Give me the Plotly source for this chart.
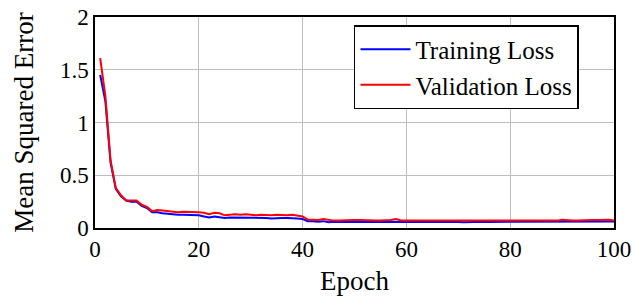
import plotly.graph_objects as go

epochs = list(range(1, 101))

training_loss = [
    1.45, 1.20, 0.62, 0.37, 0.30, 0.26, 0.25, 0.25, 0.21, 0.19,
    0.15, 0.15, 0.14, 0.135, 0.125, 0.125, 0.125, 0.125, 0.12, 0.12,
    0.11, 0.10, 0.11, 0.10, 0.095, 0.10, 0.10, 0.095, 0.10, 0.095,
    0.095, 0.095, 0.095, 0.09, 0.095, 0.095, 0.095, 0.095, 0.09, 0.085,
    0.065, 0.065, 0.06, 0.065, 0.055, 0.06, 0.06, 0.06, 0.06, 0.06,
    0.06, 0.058, 0.058, 0.058, 0.058, 0.058, 0.06, 0.065, 0.058, 0.058,
    0.058, 0.058, 0.058, 0.06, 0.058, 0.058, 0.06, 0.058, 0.06, 0.058,
    0.055, 0.058, 0.058, 0.058, 0.06, 0.058, 0.058, 0.058, 0.058, 0.058,
    0.058, 0.058, 0.06, 0.058, 0.06, 0.06, 0.058, 0.06, 0.058, 0.062,
    0.058, 0.058, 0.058, 0.058, 0.065, 0.06, 0.06, 0.062, 0.062, 0.062,
]

validation_loss = [
    1.61, 1.25, 0.64, 0.38, 0.31, 0.26, 0.26, 0.26, 0.22, 0.20,
    0.16, 0.17, 0.165, 0.16, 0.15, 0.15, 0.155, 0.155, 0.15, 0.15,
    0.145, 0.13, 0.145, 0.14, 0.12, 0.125, 0.13, 0.125, 0.13, 0.125,
    0.12, 0.125, 0.12, 0.12, 0.125, 0.12, 0.12, 0.125, 0.12, 0.11,
    0.08, 0.08, 0.075, 0.085, 0.075, 0.07, 0.072, 0.075, 0.075, 0.075,
    0.075, 0.072, 0.072, 0.072, 0.072, 0.072, 0.075, 0.085, 0.072, 0.07,
    0.07, 0.07, 0.07, 0.072, 0.07, 0.07, 0.075, 0.072, 0.075, 0.072,
    0.068, 0.07, 0.072, 0.072, 0.075, 0.072, 0.07, 0.072, 0.072, 0.07,
    0.07, 0.07, 0.075, 0.072, 0.075, 0.075, 0.072, 0.075, 0.07, 0.078,
    0.072, 0.072, 0.07, 0.072, 0.08, 0.075, 0.075, 0.078, 0.078, 0.072,
]

x_ticks = [0, 20, 40, 60, 80, 100]
y_ticks = [0, 0.5, 1, 1.5, 2]
y_tick_labels = ["0", "0.5", "1", "1.5", "2"]

font_family = "Liberation Serif"

fig = go.Figure()
fig.add_trace(go.Scatter(x=epochs, y=training_loss, mode="lines", name="Training Loss",
                         line=dict(color="#0000ff", width=2)))
fig.add_trace(go.Scatter(x=epochs, y=validation_loss, mode="lines", name="Validation Loss",
                         line=dict(color="#ff0000", width=2)))

fig.update_layout(
    width=635, height=296,
    margin=dict(l=95, r=21, t=17, b=68),
    paper_bgcolor="white", plot_bgcolor="white",
    font=dict(family=font_family, size=22, color="black"),
    legend=dict(x=0.499, y=0.962, xanchor="left", yanchor="top",
                bordercolor="black", borderwidth=1.5, bgcolor="white",
                font=dict(family=font_family, size=25, color="black"), tracegroupgap=0,
                itemwidth=50),
    showlegend=True,
)
fig.update_xaxes(range=[0, 100], tickvals=x_ticks, showgrid=True, gridcolor="#bfbfbf", gridwidth=1,
                 showline=True, linecolor="black", linewidth=1.5, mirror=True,
                 ticks="", zeroline=False, automargin=False, ticklabeloverflow="allow",
                 tickfont=dict(family=font_family, size=23, color="black"),
                 title=dict(text="Epoch", standoff=11,
                            font=dict(family=font_family, size=27, color="black")))
fig.update_yaxes(range=[0, 2], tickvals=y_ticks, ticktext=y_tick_labels, showgrid=True,
                 gridcolor="#bfbfbf", gridwidth=1,
                 showline=True, linecolor="black", linewidth=1.5, mirror=True,
                 ticks="", zeroline=False, automargin=False, ticklabeloverflow="allow",
                 tickfont=dict(family=font_family, size=23, color="black"),
                 title=dict(text="Mean Squared Error", standoff=18,
                            font=dict(family=font_family, size=27, color="black")))

fig.write_html("out.html", config={"displayModeBar": False},
               post_script="document.body.style.margin='0';document.body.style.overflow='hidden';")
